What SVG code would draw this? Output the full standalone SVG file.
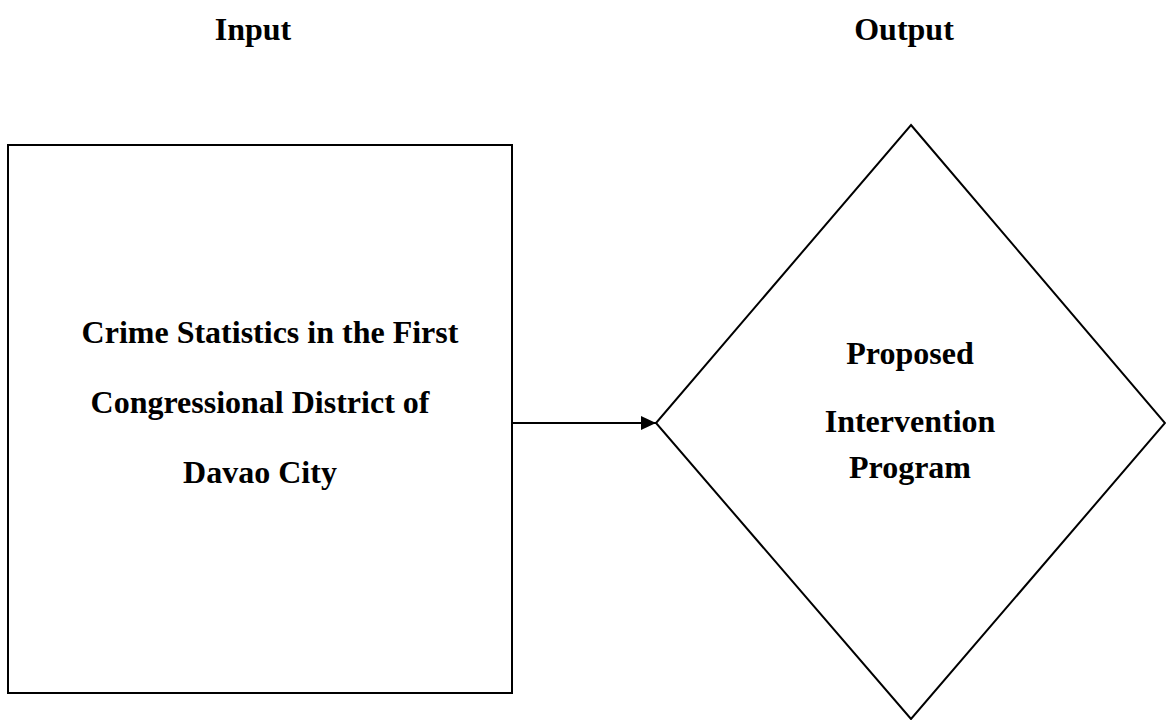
<svg xmlns="http://www.w3.org/2000/svg" width="1166" height="720" viewBox="0 0 1166 720">
<style>
text{font-family:"Liberation Serif","Times New Roman",serif;font-weight:bold;font-size:32px;text-anchor:middle;fill:#000}
.shape{fill:#fff;stroke:#000;stroke-width:2}
.conn{stroke:#000;stroke-width:2;fill:none}
</style>
<defs>
<marker id="ah" markerUnits="userSpaceOnUse" markerWidth="16" markerHeight="14" refX="15" refY="7" orient="auto">
<path d="M0,0 L15,7 L0,14 Z" fill="#000"/>
</marker>
</defs>
<rect width="1166" height="720" fill="#fff"/>
<g id="label-input"><text x="253" y="40">Input</text></g>
<g id="label-output"><text x="904" y="40">Output</text></g>
<g id="input-box">
<rect class="shape" x="8" y="145" width="504" height="548"/>
<text x="270" y="343">Crime Statistics in the First</text>
<text x="260" y="413">Congressional District of</text>
<text x="260" y="483">Davao City</text>
</g>
<g id="output-diamond">
<polygon class="shape" points="911,125 1165,423 911,719 656,423"/>
<text x="910" y="364">Proposed</text>
<text x="910" y="432">Intervention</text>
<text x="910" y="478">Program</text>
</g>
<g id="connectors">
<line class="conn" x1="512" y1="423" x2="656" y2="423" marker-end="url(#ah)"/>
</g>
</svg>
